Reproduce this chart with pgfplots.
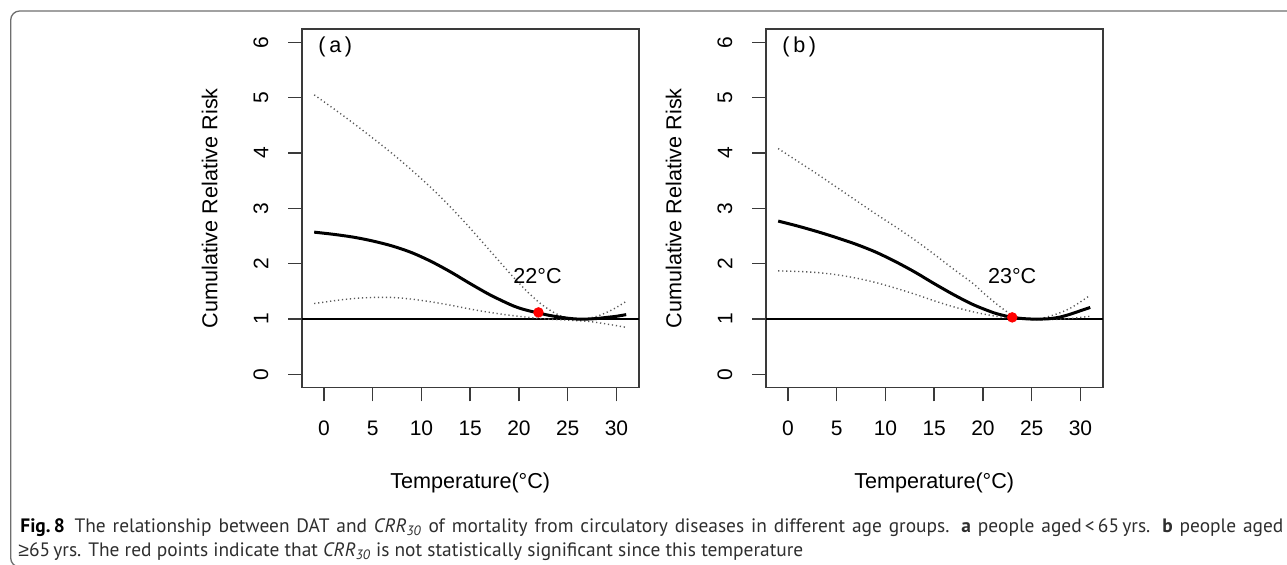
\documentclass[border=0pt]{standalone}
\usepackage{fontspec}
\setmainfont{Liberation Sans}
\newfontfamily\capfont{PT Sans}
\newfontfamily\symfont{Liberation Sans}
\usepackage{pgfplots}
\pgfplotsset{compat=1.18}
\definecolor{boxgray}{HTML}{3A3A3A}
\definecolor{framegray}{HTML}{6E6E6E}
\definecolor{capgray}{HTML}{2E2E2E}

\pgfplotsset{
  rpanel/.style={
    anchor=south west,
    width=168.5pt, height=179.35pt, scale only axis,
    xmin=-2.28, xmax=32.28, ymin=-0.24, ymax=6.24,
    xtick={0,5,10,15,20,25,30}, ytick={0,1,2,3,4,5,6},
    xtick pos=lower, ytick pos=left,
    tick align=outside, major tick length=6.85pt,
    axis line style={boxgray, line width=0.8pt},
    every tick/.style={boxgray, line width=0.75pt},
    /pgf/number format/assume math mode=true,
    tick label style={font=\fontsize{10.5}{12}\selectfont},
    xticklabel style={anchor=north, inner sep=0pt},
    yticklabel style={rotate=90, anchor=south, inner sep=0pt},
    xticklabel shift=9.6pt, yticklabel shift=9.6pt,
    label style={font=\fontsize{10.8}{12}\selectfont},
    xlabel={Temperature(°C)},
    ylabel={Cumulative Relative Risk},
    xlabel style={at={(axis description cs:0.5,-0.266)}, anchor=center},
    ylabel style={at={(axis description cs:-0.273,0.5)}, anchor=center},
    clip=false,
  },
  cisty/.style={black!65, line width=0.7pt, dash pattern=on 0.6pt off 1.4pt, smooth, tension=0.5},
  mainsty/.style={black, line width=1.5pt, smooth, tension=0.5},
}

\begin{document}
\begin{tikzpicture}
\useasboundingbox (0,0) rectangle (643.5pt,282.5pt);
\draw[framegray, line width=0.65pt, rounded corners=4.5pt] (5.35pt,277pt) rectangle (660pt,-1pt);

% ---------------- Panel (a)
\begin{axis}[rpanel, at={(150.85pt,88.65pt)}]
\addplot[black, line width=0.6pt] coordinates {(-2.28,1) (32.28,1)};
\addplot[cisty] coordinates {
(-1,5.05) (1,4.80) (3,4.54) (5,4.27) (7,3.99) (9,3.69) (11,3.37) (13,3.02)
(15,2.64) (17,2.24) (19,1.84) (20,1.65) (21,1.47) (22,1.31) (23,1.18)
(24,1.08) (25,1.02) (26,1.00) (27,1.01) (28,1.05) (29,1.12) (30,1.21) (31,1.32)};
\addplot[cisty] coordinates {
(-1,1.28) (1,1.33) (3,1.37) (5,1.39) (7,1.39) (9,1.36) (11,1.31) (13,1.25)
(15,1.18) (17,1.12) (19,1.07) (21,1.03) (23,1.00) (25,0.98) (27,0.96)
(29,0.91) (31,0.85)};
\addplot[mainsty] coordinates {
(-1,2.57) (1,2.53) (3,2.48) (5,2.41) (7,2.32) (9,2.20) (11,2.04) (13,1.85)
(15,1.64) (17,1.44) (19,1.27) (20,1.20) (21,1.15) (22,1.11) (23,1.07)
(24,1.04) (25,1.015) (26,1.00) (27,1.00) (28,1.01) (29,1.03) (30,1.05) (31,1.08)};
\addplot[only marks, mark=*, mark size=2.4pt, red, draw=red] coordinates {(22,1.12)};
\node[font=\fontsize{10.8}{12}\selectfont] at (axis cs:21.9,1.77) {22°C};
\node[anchor=west, inner sep=0pt, font=\fontsize{10.8}{12}\selectfont] at (axis cs:-0.6,5.92) {(\,a\,)};
\end{axis}

% ---------------- Panel (b)
\begin{axis}[rpanel, at={(382.85pt,88.65pt)}]
\addplot[black, line width=0.6pt] coordinates {(-2.28,1) (32.28,1)};
\addplot[cisty] coordinates {
(-1,4.08) (1,3.85) (3,3.62) (5,3.38) (7,3.14) (9,2.90) (11,2.67) (13,2.43)
(15,2.17) (17,1.90) (19,1.64) (20,1.48) (21,1.33) (22,1.19) (23,1.07)
(24,1.02) (25,1.00) (26,1.01) (27,1.06) (28,1.12) (29,1.20) (30,1.31) (31,1.43)};
\addplot[cisty] coordinates {
(-1,1.87) (1,1.86) (3,1.84) (5,1.80) (7,1.74) (9,1.66) (11,1.56) (13,1.45)
(15,1.33) (17,1.22) (19,1.13) (21,1.06) (23,1.01) (25,0.99) (27,0.99)
(29,1.01) (31,1.05)};
\addplot[mainsty] coordinates {
(-1,2.77) (1,2.68) (3,2.58) (5,2.47) (7,2.35) (9,2.21) (11,2.04) (13,1.85)
(15,1.64) (17,1.44) (19,1.26) (21,1.12) (22,1.07) (23,1.03) (24,1.01)
(25,1.00) (26,1.00) (27,1.01) (28,1.04) (29,1.09) (30,1.15) (31,1.21)};
\addplot[only marks, mark=*, mark size=2.4pt, red, draw=red] coordinates {(23,1.03)};
\node[font=\fontsize{10.8}{12}\selectfont] at (axis cs:23,1.77) {23°C};
\node[anchor=west, inner sep=0pt, font=\fontsize{10.8}{12}\selectfont] at (axis cs:-0.6,5.92) {(\,b\,)};
\end{axis}

% ---------------- Caption
\node[anchor=base west, inner sep=0pt, text=capgray, font=\capfont\fontsize{9.7}{12}\selectfont] at (10pt,16pt)
 {\makebox[631.5pt][s]{{\color{black}\textbf{Fig.\,8}}\enspace The relationship between DAT and \textit{CRR\textsubscript{30}} of mortality from circulatory diseases in different age groups. \textbf{a} people aged\,<\,65\,yrs. \textbf{b} people aged}};
\node[anchor=base west, inner sep=0pt, text=capgray, font=\capfont\fontsize{9.7}{12}\selectfont] at (9pt,4pt)
 {{\symfont ≥}65\,yrs. The red points indicate that \textit{CRR\textsubscript{30}} is not statistically significant since this temperature};
\end{tikzpicture}
\end{document}
